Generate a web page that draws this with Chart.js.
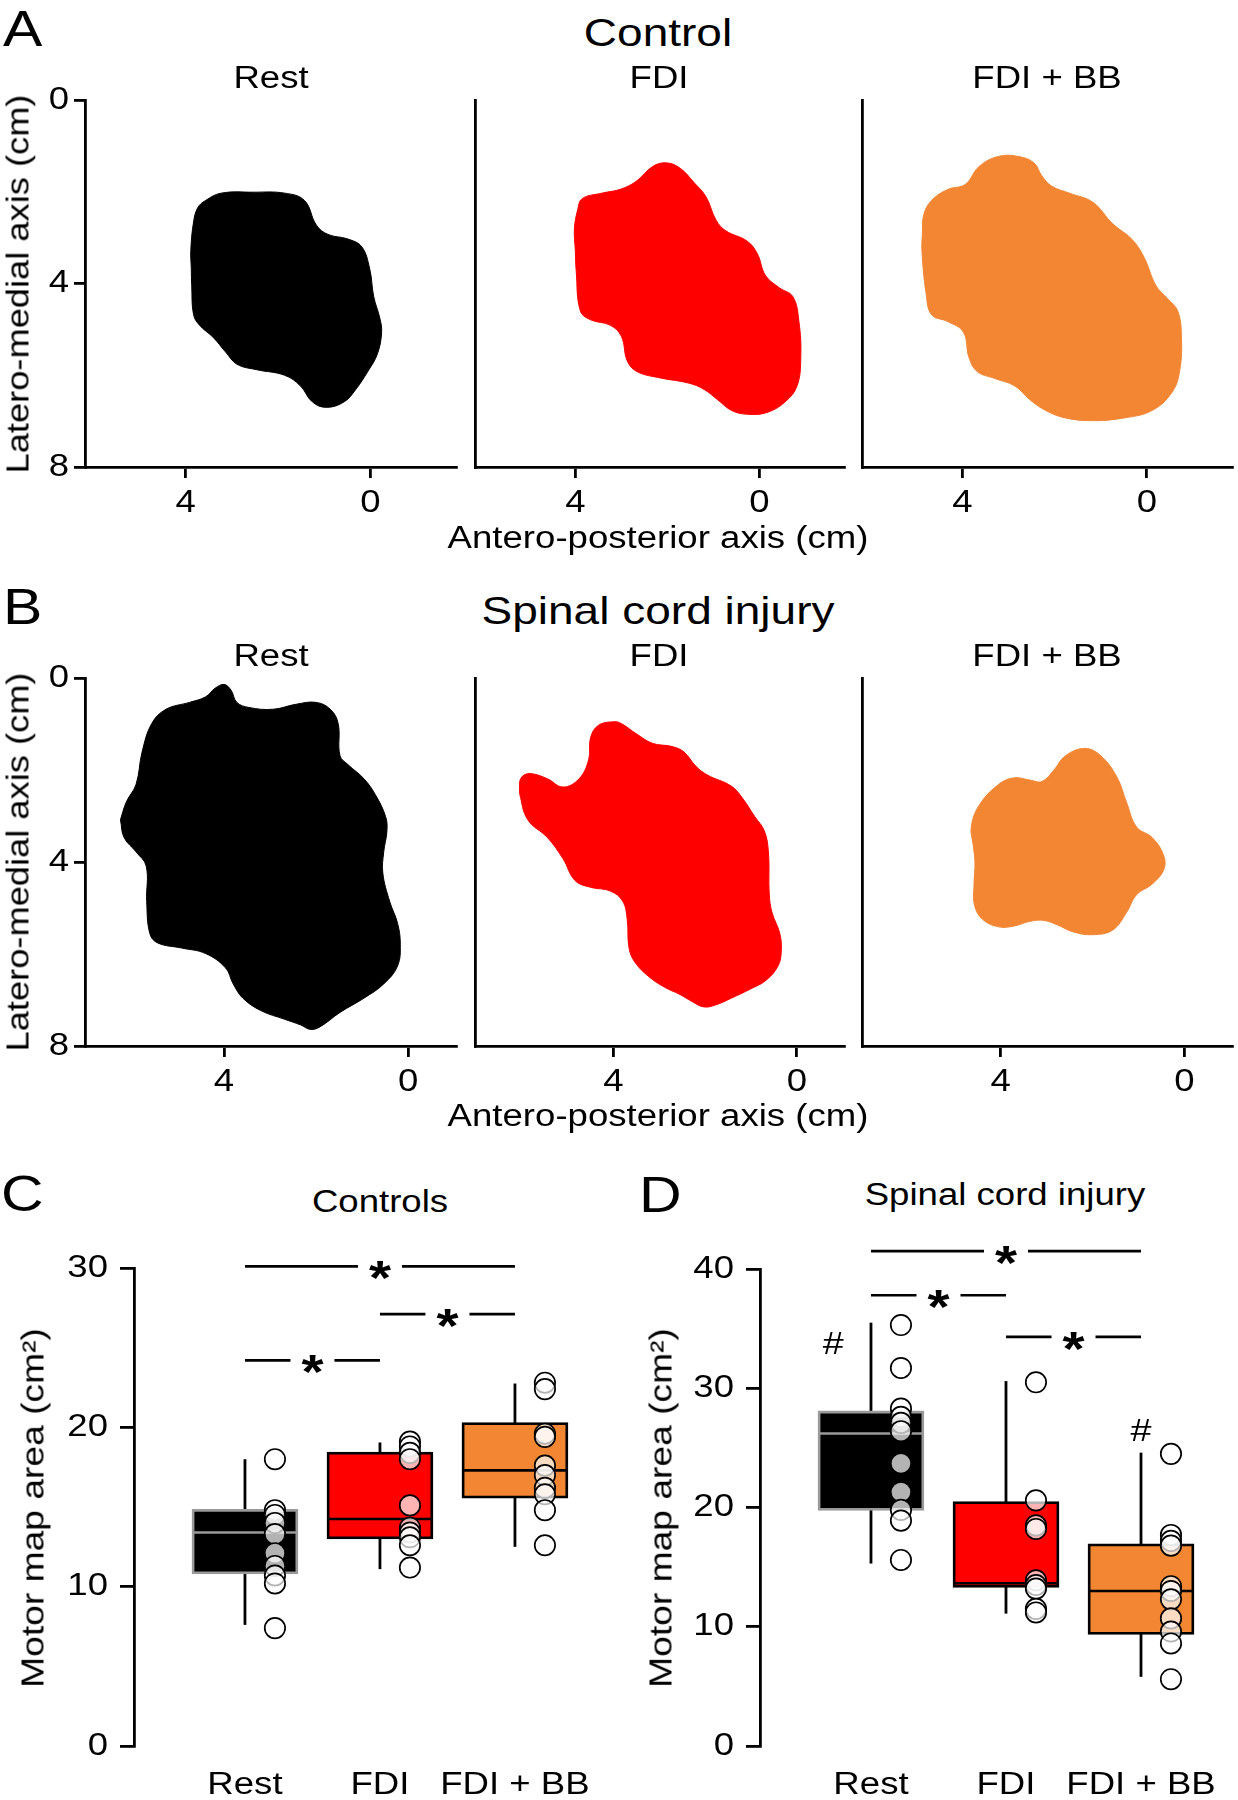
<!DOCTYPE html>
<html><head><meta charset="utf-8">
<script src="https://cdn.jsdelivr.net/npm/chart.js@4.4.1/dist/chart.umd.min.js"></script>
<style>
html,body{margin:0;padding:0;background:#fff;}
#fig{position:relative;width:1238px;height:1800px;overflow:hidden;background:#fff;}
#fig canvas{position:absolute;}
.t{position:absolute;white-space:nowrap;color:#000;font-family:'Liberation Sans',Arial,sans-serif;z-index:5;}
.t span{display:inline-block;white-space:nowrap;}
</style></head><body><div id="fig"></div>
<script>
// ================= DATA =================
const conditions = ['Rest', 'FDI', 'FDI + BB'];
const apTicks = [4, 0];          // antero-posterior axis ticks (cm)
const lmTicks = [0, 4, 8];       // latero-medial axis ticks (cm)

// Motor map outlines [antero-posterior, latero-medial] in cm
const ctrlRestShape = [[3.88,3.66],[3.89,3.28],[3.83,2.66],[3.74,2.35],[3.57,2.19],[3.23,2.03],[2.54,2.01],[1.86,2.03],[1.43,2.19],[1.17,2.73],[0.92,2.93],[0.49,3.03],[0.19,3.20],[0.02,3.67],[-0.07,4.29],[-0.20,4.75],[-0.24,5.06],[-0.15,5.53],[0.06,5.92],[0.32,6.31],[0.57,6.58],[0.96,6.70],[1.26,6.58],[1.52,6.23],[1.86,6.00],[2.46,5.88],[2.89,5.76],[3.14,5.49],[3.40,5.18],[3.70,4.91],[3.83,4.68],[3.87,4.05],[3.88,3.66]];
const ctrlFdiShape = [[4.00,3.28],[4.02,2.81],[3.95,2.40],[3.85,2.15],[3.42,2.03],[3.00,1.94],[2.66,1.76],[2.32,1.45],[2.02,1.37],[1.72,1.49],[1.42,1.80],[1.16,2.11],[0.94,2.62],[0.73,2.85],[0.26,3.08],[0.04,3.36],[-0.13,3.82],[-0.43,4.09],[-0.73,4.29],[-0.86,4.83],[-0.90,5.61],[-0.82,6.23],[-0.56,6.58],[-0.17,6.81],[0.26,6.85],[0.60,6.77],[0.90,6.54],[1.20,6.31],[1.54,6.17],[2.15,6.06],[2.66,5.92],[2.87,5.69],[3.00,5.15],[3.24,4.91],[3.67,4.79],[3.89,4.60],[3.98,3.74],[4.00,3.28]];
const ctrlFdiBbShape = [[4.87,2.90],[4.84,2.50],[4.67,2.19],[4.32,1.95],[3.94,1.84],[3.64,1.45],[3.22,1.23],[2.79,1.23],[2.45,1.37],[2.28,1.65],[2.06,1.88],[1.68,2.03],[1.17,2.23],[0.74,2.70],[0.32,3.04],[0.06,3.43],[-0.20,4.05],[-0.45,4.33],[-0.67,4.60],[-0.75,5.14],[-0.71,5.92],[-0.54,6.38],[-0.11,6.77],[0.49,6.93],[1.17,6.99],[1.77,6.93],[2.19,6.77],[2.53,6.54],[2.87,6.23],[3.30,6.07],[3.68,5.92],[3.86,5.61],[3.98,5.06],[4.32,4.83],[4.67,4.68],[4.79,4.21],[4.88,3.28],[4.87,2.90]];
const sciRestShape = [[6.25,3.08],[6.12,2.69],[5.91,2.31],[5.78,1.61],[5.57,0.99],[5.26,0.68],[4.75,0.53],[4.40,0.41],[4.19,0.22],[4.00,0.14],[3.85,0.26],[3.72,0.53],[3.46,0.64],[2.94,0.68],[2.43,0.57],[2.00,0.53],[1.69,0.68],[1.52,0.99],[1.48,1.69],[1.31,1.88],[0.96,2.19],[0.71,2.54],[0.49,3.01],[0.46,3.32],[0.53,3.78],[0.55,4.24],[0.40,4.86],[0.23,5.33],[0.17,5.79],[0.23,6.26],[0.53,6.65],[0.96,6.96],[1.48,7.27],[1.91,7.58],[2.12,7.64],[2.34,7.54],[2.68,7.42],[3.20,7.23],[3.59,6.96],[3.80,6.65],[3.97,6.30],[4.40,5.99],[4.92,5.87],[5.44,5.76],[5.61,5.56],[5.68,4.86],[5.69,4.09],[5.91,3.78],[6.17,3.47],[6.25,3.08]];
const sciFdiShape = [[6.05,2.38],[6.04,2.23],[5.95,2.11],[5.78,2.08],[5.44,2.19],[5.10,2.37],[4.75,2.19],[4.54,1.77],[4.50,1.30],[4.33,1.03],[3.98,0.95],[3.83,0.99],[3.49,1.22],[3.15,1.42],[2.72,1.49],[2.46,1.61],[2.20,1.92],[1.95,2.11],[1.43,2.35],[1.18,2.62],[0.92,3.01],[0.71,3.32],[0.62,3.78],[0.60,4.71],[0.54,5.10],[0.37,5.56],[0.34,5.95],[0.41,6.26],[0.67,6.57],[1.01,6.76],[1.43,6.96],[1.78,7.11],[2.03,7.15],[2.29,7.03],[2.55,6.88],[2.89,6.72],[3.23,6.49],[3.53,6.18],[3.66,5.87],[3.70,5.25],[3.80,4.85],[4.07,4.63],[4.50,4.55],[4.84,4.40],[5.10,3.93],[5.44,3.47],[5.87,3.08],[6.04,2.54],[6.05,2.38]];
const sciFdiBbShape = [[4.60,3.62],[4.64,3.24],[4.47,2.77],[4.04,2.31],[3.70,2.17],[3.36,2.22],[3.10,2.25],[2.84,2.00],[2.59,1.69],[2.16,1.53],[1.82,1.69],[1.47,2.15],[1.26,2.70],[1.04,3.24],[0.70,3.47],[0.45,3.86],[0.45,4.17],[0.70,4.48],[1.04,4.71],[1.26,5.10],[1.56,5.48],[1.99,5.58],[2.42,5.52],[2.76,5.37],[3.06,5.27],[3.36,5.29],[3.70,5.39],[4.04,5.41],[4.39,5.25],[4.57,4.94],[4.58,4.48],[4.56,4.01],[4.60,3.62]];

// Motor map area (cm^2) box-plot statistics: [Rest, FDI, FDI + BB]
const ctrlWhiskerLow  = [7.6, 11.1, 12.5];
const ctrlQ1          = [10.8, 13.0, 15.55];
const ctrlMedian      = [13.4, 14.25, 17.3];
const ctrlQ3          = [14.85, 18.45, 20.3];
const ctrlWhiskerHigh = [18.0, 19.05, 22.75];
const ctrlRestPts   = [18.0, 14.8, 14.5, 14.0, 13.3, 12.1, 11.3, 10.7, 10.2, 7.4];
const ctrlFdiPts    = [19.1, 18.8, 18.4, 18.0, 15.1, 13.7, 13.4, 13.1, 12.6, 11.2];
const ctrlFdiBbPts  = [22.8, 22.4, 19.6, 19.4, 17.6, 17.0, 16.2, 15.8, 14.8, 12.6];

const sciWhiskerLow  = [15.3, 11.1, 5.8];
const sciQ1          = [19.75, 13.3, 9.35];
const sciMedian      = [26.2, 13.65, 13.0];
const sciQ3          = [28.1, 20.5, 16.95];
const sciWhiskerHigh = [35.5, 30.6, 24.6];
const sciRestPts   = [35.3, 31.7, 28.3, 27.6, 27.1, 26.4, 23.7, 21.3, 19.8, 18.9, 15.6];
const sciFdiPts    = [30.5, 20.6, 18.5, 18.2, 13.9, 13.5, 13.2, 11.5, 11.2];
const sciFdiBbPts  = [24.5, 17.7, 17.2, 16.8, 13.4, 13.0, 12.3, 10.7, 9.6, 8.6, 5.6];

// significance brackets (category index from/to, height in cm^2)
const ctrlSig = [{from:1, to:3, y:30.1}, {from:2, to:3, y:27.1}, {from:1, to:2, y:24.2}];
const sciSig  = [{from:1, to:3, y:41.5}, {from:1, to:2, y:37.8}, {from:2, to:3, y:34.3}];
const sciHash = [{cat:1, dx:-0.28, y:33.8}, {cat:3, dx:0, y:26.5}];

// ================= STYLE =================
const FONT = "'Liberation Sans', Arial, sans-serif";
const SX = 1.18;                 // horizontal glyph stretch of the original lettering
const RED = '#ff0000', ORANGE = '#f28633', BLACK = '#000000', GREY = '#9a9a9a';
const LW = 2.8;
Chart.defaults.font.family = FONT;
Chart.defaults.color = '#000';

const fig = document.getElementById('fig');

function stretchText(ctx, sx) {
  const orig = ctx.fillText;
  ctx.fillText = function (t, x, y, mw) {
    this.save();
    this.translate(x, y);
    this.scale(sx, 1);
    if (mw === undefined || mw === null) orig.call(this, t, 0, 0);
    else orig.call(this, t, 0, 0, mw / sx);
    this.restore();
  };
}

function makeCanvas(x, y, w, h) {
  const cv = document.createElement('canvas');
  cv.width = w; cv.height = h;
  cv.style.left = x + 'px'; cv.style.top = y + 'px';
  cv.style.width = w + 'px'; cv.style.height = h + 'px';
  fig.appendChild(cv);
  const ctx = cv.getContext('2d');
  stretchText(ctx, SX);
  return ctx;
}

function addText(txt, o) {
  const d = document.createElement('div');
  d.className = 't';
  const s = document.createElement('span');
  s.innerHTML = txt;
  const size = o.size;
  d.style.fontSize = size + 'px';
  d.style.lineHeight = size + 'px';
  const sx = o.sx || SX;
  d.style.left = o.x + 'px';
  if (o.rotate) {
    d.style.top = o.y + 'px';
    s.style.transform = 'translate(-50%,-50%) rotate(-90deg) scaleX(' + sx + ')';
  } else {
    d.style.top = (o.base - 0.8465 * size) + 'px';
    if (o.align === 'left') { s.style.transformOrigin = '0 0'; s.style.transform = 'scaleX(' + sx + ')'; }
    else s.style.transform = 'translateX(-50%) scaleX(' + sx + ')';
  }
  d.appendChild(s);
  fig.appendChild(d);
}

// ================= MAP PANELS (A, B) =================
const PADT = 34, XH = 60;
function blobChart(area, shape, color, xr, showY) {
  const yW = showY ? 85 : 12;
  const cx = area.left - yW;
  const cy = area.top - PADT;
  const w = Math.round(area.right + 4 - cx);
  const h = Math.round(PADT + (area.bottom - area.top) + XH);
  const ctx = makeCanvas(cx, cy, w, h);
  return new Chart(ctx, {
    type: 'line',
    data: { datasets: [{
      data: shape.map(p => ({x: p[0], y: p[1]})),
      borderColor: color, backgroundColor: color, borderWidth: 1,
      fill: 'shape', tension: 0.4, pointRadius: 0
    }]},
    options: {
      responsive: false, animation: false, devicePixelRatio: 1, events: [],
      layout: {autoPadding: false, padding: {top: PADT, right: w - (area.right - cx), left: 0, bottom: 0}},
      plugins: {legend: {display: false}, tooltip: {enabled: false}, title: {display: false}},
      scales: {
        x: {type: 'linear', reverse: true, min: xr[0], max: xr[1], offset: false,
          afterBuildTicks: ax => { ax.ticks = apTicks.map(v => ({value: v})); },
          afterFit: ax => { ax.height = XH; },
          border: {display: true, color: '#000', width: LW},
          grid: {display: true, drawOnChartArea: false, drawTicks: true, tickLength: 11, color: '#000', lineWidth: LW},
          ticks: {color: '#000', font: {size: 31, family: FONT}, padding: 7, maxRotation: 0, autoSkip: false}
        },
        y: {type: 'linear', reverse: true, min: 0, max: 8, offset: false,
          afterBuildTicks: ax => { ax.ticks = lmTicks.map(v => ({value: v})); },
          afterFit: ax => { ax.width = yW; },
          border: {display: true, color: '#000', width: LW},
          grid: {display: showY, drawOnChartArea: false, drawTicks: showY, tickLength: 11, color: '#000', lineWidth: LW},
          ticks: {display: showY, color: '#000', font: {size: 31, family: FONT}, padding: 5}
        }
      }
    }
  });
}

const colLeft = [85, 474.5, 862.4], colRight = [456, 844, 1232.5];
const rowA = {top: 100, bottom: 467.2}, rowB = {top: 678, bottom: 1046.2};
const xrA = [-1.85, 6.18], xrB = [-1.04, 7.02];
const shapesA = [ctrlRestShape, ctrlFdiShape, ctrlFdiBbShape];
const shapesB = [sciRestShape, sciFdiShape, sciFdiBbShape];
const mapColors = [BLACK, RED, ORANGE];
for (let i = 0; i < 3; i++) {
  blobChart({left: colLeft[i], right: colRight[i], top: rowA.top, bottom: rowA.bottom}, shapesA[i], mapColors[i], xrA, i === 0);
  blobChart({left: colLeft[i], right: colRight[i], top: rowB.top, bottom: rowB.bottom}, shapesB[i], mapColors[i], xrB, i === 0);
}

// ================= BOX PANELS (C, D) =================
const PT_OFF = 0.222, HW = 0.39;
const boxFill = [BLACK, RED, ORANGE];
const boxEdge = [GREY, BLACK, BLACK];
const medColor = [GREY, BLACK, BLACK];

const sigPlugin = {
  id: 'sigMarks',
  afterDatasetsDraw(chart, args, opts) {
    const {ctx, scales: {x, y}} = chart;
    ctx.save();
    (opts.sig || []).forEach(s => {
      const px = x.getPixelForValue((s.from + s.to) / 2);
      const py = y.getPixelForValue(s.y) + 4;
      ctx.fillStyle = '#fff';
      ctx.fillRect(px - 22, py - 20, 44, 40);
      ctx.fillStyle = '#000';
      ctx.font = 'bold 48px ' + FONT;
      ctx.textAlign = 'center';
      ctx.textBaseline = 'alphabetic';
      const m = ctx.measureText('*');
      const off = (m.actualBoundingBoxAscent - m.actualBoundingBoxDescent) / 2;
      ctx.fillText('*', px, py + off);
    });
    (opts.hash || []).forEach(hm => {
      const px = x.getPixelForValue(hm.cat + hm.dx);
      const py = y.getPixelForValue(hm.y);
      ctx.fillStyle = '#000';
      ctx.font = '32px ' + FONT;
      ctx.textAlign = 'center';
      ctx.textBaseline = 'alphabetic';
      const m = ctx.measureText('#');
      const off = (m.actualBoundingBoxAscent - m.actualBoundingBoxDescent) / 2;
      ctx.fillText('#', px, py + off);
    });
    ctx.restore();
  }
};

function boxChart(c) {
  const ctx = makeCanvas(c.canvas.x, c.canvas.y, c.canvas.w, c.canvas.h);
  const cats = [1, 2, 3];
  const ds = [];
  c.points.forEach((arr, i) => ds.push({
    type: 'scatter', data: arr.map(v => ({x: cats[i] + PT_OFF, y: v})),
    pointRadius: 10.2, pointBackgroundColor: 'rgba(255,255,255,0.7)', pointBorderColor: '#000',
    pointBorderWidth: 1.7, order: 0, clip: false
  }));
  c.med.forEach((m, i) => ds.push({
    type: 'line', data: [{x: cats[i] - HW, y: m}, {x: cats[i] + HW, y: m}],
    borderColor: medColor[i], borderWidth: 2.6, pointRadius: 0, order: 1
  }));
  ds.push({
    type: 'bar', data: cats.map((cc, i) => ({x: cc, y: [c.q1[i], c.q3[i]]})),
    backgroundColor: boxFill, borderColor: boxEdge, borderWidth: 2.8, borderSkipped: false,
    barThickness: 106, order: 2
  });
  c.lo.forEach((lo, i) => ds.push({
    type: 'line', data: [{x: cats[i], y: lo}, {x: cats[i], y: c.hi[i]}],
    borderColor: '#000', borderWidth: 2.8, pointRadius: 0, order: 3
  }));
  c.sig.forEach(s => ds.push({
    type: 'line', data: [{x: s.from, y: s.y}, {x: s.to, y: s.y}],
    borderColor: '#000', borderWidth: 2.7, pointRadius: 0, clip: false, order: 4
  }));
  return new Chart(ctx, {
    type: 'scatter',
    data: {datasets: ds},
    plugins: [sigPlugin],
    options: {
      responsive: false, animation: false, devicePixelRatio: 1, events: [],
      layout: {autoPadding: false, padding: {top: c.padTop, right: c.padRight, left: 0, bottom: 0}},
      plugins: {legend: {display: false}, tooltip: {enabled: false}, sigMarks: {sig: c.sig, hash: c.hash}},
      scales: {
        x: {type: 'linear', min: c.xr[0], max: c.xr[1], offset: false,
          afterBuildTicks: ax => { ax.ticks = cats.map(v => ({value: v})); },
          afterFit: ax => { ax.height = c.xH; },
          border: {display: false},
          grid: {display: false, drawTicks: false},
          ticks: {color: '#000', font: {size: 31, family: FONT}, padding: 21, maxRotation: 0, autoSkip: false,
            callback: v => conditions[v - 1]}
        },
        y: {type: 'linear', min: 0, max: c.yMax, offset: false,
          ticks: {stepSize: 10, color: '#000', font: {size: 31, family: FONT}, padding: 12},
          afterFit: ax => { ax.width = c.yW; },
          border: {display: true, color: '#000', width: LW},
          grid: {display: true, drawOnChartArea: false, drawTicks: true, tickLength: 14, color: '#000', lineWidth: LW}
        }
      }
    }
  });
}

boxChart({
  canvas: {x: 0, y: 1225, w: 610, h: 575}, padTop: 43, padRight: 10, yW: 134, xH: 54,
  xr: [0.178, 3.63], yMax: 30,
  lo: ctrlWhiskerLow, q1: ctrlQ1, med: ctrlMedian, q3: ctrlQ3, hi: ctrlWhiskerHigh,
  points: [ctrlRestPts, ctrlFdiPts, ctrlFdiBbPts], sig: ctrlSig, hash: []
});
boxChart({
  canvas: {x: 620, y: 1215, w: 618, h: 585}, padTop: 54, padRight: 6, yW: 140, xH: 54,
  xr: [0.178, 3.674], yMax: 40,
  lo: sciWhiskerLow, q1: sciQ1, med: sciMedian, q3: sciQ3, hi: sciWhiskerHigh,
  points: [sciRestPts, sciFdiPts, sciFdiBbPts], sig: sciSig, hash: sciHash
});

// ================= TEXT =================
addText('A', {x: 3, base: 46.4, size: 50, align: 'left'});
addText('B', {x: 3, base: 624.5, size: 50, align: 'left'});
addText('C', {x: 1, base: 1211, size: 50, align: 'left'});
addText('D', {x: 639, base: 1212, size: 50, align: 'left'});
addText('Control', {x: 658, base: 46, size: 39});
addText('Spinal cord injury', {x: 658, base: 624, size: 39});
const subCenters = [270.5, 659, 1047];
conditions.forEach((c, i) => {
  addText(c, {x: subCenters[i], base: 88.2, size: 31});
  addText(c, {x: subCenters[i], base: 666.2, size: 31});
});
addText('Antero-posterior axis (cm)', {x: 658, base: 548, size: 31});
addText('Antero-posterior axis (cm)', {x: 658, base: 1126, size: 31});
addText('Latero-medial axis (cm)', {x: 18, y: 283.5, size: 31, rotate: true, sx: 1.17});
addText('Latero-medial axis (cm)', {x: 18, y: 862, size: 31, rotate: true, sx: 1.17});
addText('Controls', {x: 380, base: 1212, size: 31});
addText('Spinal cord injury', {x: 1005, base: 1205, size: 31});
addText('Motor map area (cm²)', {x: 33, y: 1508, size: 31, rotate: true, sx: 1.2});
addText('Motor map area (cm²)', {x: 661, y: 1508, size: 31, rotate: true, sx: 1.2});
</script>
</body></html>
